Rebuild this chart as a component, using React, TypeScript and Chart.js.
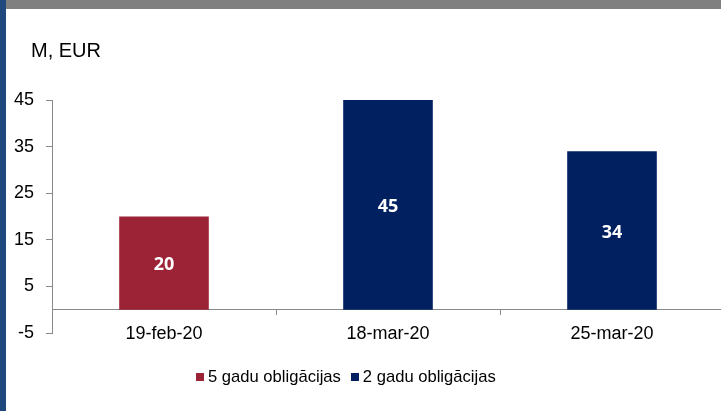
import React, { useEffect, useRef } from "react";
import { Chart, registerables } from "chart.js";

Chart.register(...registerables);

const categories = ["19-feb-20", "18-mar-20", "25-mar-20"];
const series5y = [20, null, null];
const series2y = [null, 45, 34];
const seriesLabels = ["5 gadu obligācijas", "2 gadu obligācijas"];
const seriesColors = ["#9B2335", "#002060"];
const yMin = -5;
const yMax = 45;
const yStep = 10;
const unitLabel = "M, EUR";

const AXIS_GRAY = "#898989";
const FONT = "'Liberation Sans', Arial, sans-serif";

const valueLabelPlugin = {
  id: "valueLabels",
  afterDatasetsDraw(chart: any) {
    const ctx = chart.ctx;
    ctx.save();
    ctx.fillStyle = "#ffffff";
    ctx.font = "bold 18px 'Open Sans', sans-serif";
    ctx.textAlign = "center";
    ctx.textBaseline = "middle";
    chart.data.datasets.forEach((ds: any, di: number) => {
      const meta = chart.getDatasetMeta(di);
      meta.data.forEach((el: any, i: number) => {
        const v = ds.data[i];
        if (v === null || v === undefined) return;
        const { x, y, base } = el.getProps(["x", "y", "base"], true);
        ctx.fillText(String(v), x, (y + base) / 2 + 2);
      });
    });
    ctx.restore();
  },
};

export default function App() {
  const canvasRef = useRef<HTMLCanvasElement | null>(null);

  useEffect(() => {
    if (!canvasRef.current) return;
    const chart = new Chart(canvasRef.current, {
      type: "bar",
      data: {
        labels: categories,
        datasets: [
          {
            label: seriesLabels[0],
            data: series5y,
            backgroundColor: seriesColors[0],
            barPercentage: 0.4,
            categoryPercentage: 1,
            skipNull: true,
          } as any,
          {
            label: seriesLabels[1],
            data: series2y,
            backgroundColor: seriesColors[1],
            barPercentage: 0.4,
            categoryPercentage: 1,
            skipNull: true,
          } as any,
        ],
      },
      options: {
        animation: false,
        responsive: false,
        maintainAspectRatio: false,
        layout: { padding: { left: 0, top: 100, right: 6, bottom: 78 } },
        plugins: {
          legend: { display: false },
          tooltip: { enabled: false },
        },
        scales: {
          x: {
            type: "category",
            position: { y: 0 } as any,
            offset: true,
            grid: {
              offset: true,
              drawOnChartArea: false,
              drawTicks: true,
              tickLength: 5,
              color: AXIS_GRAY,
            },
            border: { display: true, color: AXIS_GRAY, width: 1 },
            ticks: {
              color: "#000000",
              font: { family: FONT, size: 18 },
              padding: 9,
              maxRotation: 0,
            },
          },
          y: {
            min: yMin,
            max: yMax,
            afterFit(scale: any) {
              scale.width = 52;
            },
            grid: {
              drawOnChartArea: false,
              drawTicks: true,
              tickLength: 6,
              color: AXIS_GRAY,
            },
            border: { display: true, color: AXIS_GRAY, width: 1 },
            ticks: {
              stepSize: yStep,
              color: "#000000",
              font: { family: FONT, size: 18 },
              padding: 12,
            },
          },
        },
      },
      plugins: [valueLabelPlugin],
    });
    return () => chart.destroy();
  }, []);

  return (
    <div
      style={{
        position: "fixed",
        left: 0,
        top: 0,
        width: 721,
        height: 411,
        background: "#ffffff",
        overflow: "hidden",
        fontFamily: FONT,
      }}
    >
      <canvas
        ref={canvasRef}
        width={730}
        height={411}
        style={{ position: "absolute", left: 0, top: 0, width: 730, height: 411 }}
      />
      <div style={{ position: "absolute", left: 0, top: 0, width: 6, height: 411, background: "#1F497D" }} />
      <div style={{ position: "absolute", left: 6, top: 0, width: 715, height: 9, background: "#808080" }} />
      <div
        style={{
          position: "absolute",
          left: 31,
          top: 39,
          fontSize: 20,
          lineHeight: "22px",
          color: "#000",
          whiteSpace: "nowrap",
        }}
      >
        {unitLabel}
      </div>
      <div
        style={{
          position: "absolute",
          left: 196,
          top: 369,
          display: "flex",
          alignItems: "center",
          fontSize: 16.6,
          lineHeight: "16px",
          color: "#000",
          whiteSpace: "nowrap",
        }}
      >
        {seriesLabels.map((lab, i) => (
          <div key={lab} style={{ display: "flex", alignItems: "center", marginRight: 10 }}>
            <span
              style={{
                display: "inline-block",
                width: 8,
                height: 8,
                background: seriesColors[i],
                marginRight: 4,
              }}
            />
            <span>{lab}</span>
          </div>
        ))}
      </div>
    </div>
  );
}
